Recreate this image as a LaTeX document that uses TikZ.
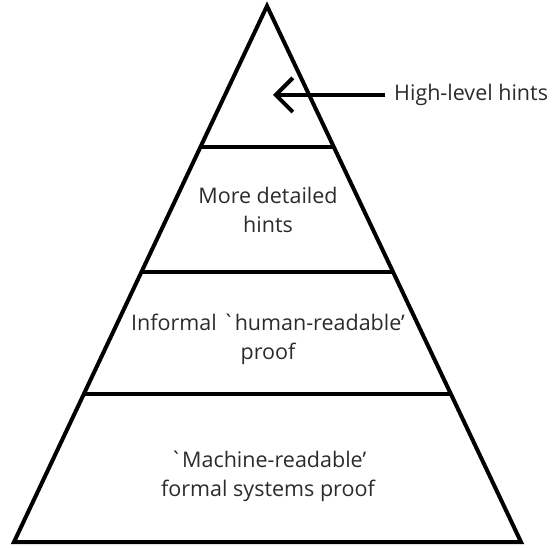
\documentclass[tikz,border=0pt]{standalone}
\usepackage{fontspec}
\usepackage{xcolor}
\usepackage{tikz}
\usetikzlibrary{arrows.meta, positioning, calc}
\newfontfamily\hintfont{Open Sans}
\definecolor{textColor}{HTML}{2B2B2B}

\begin{document}
\begin{tikzpicture}[x=1pt, y=-1pt,
        level/.style={font=\hintfont\fontsize{21.5}{29}\selectfont, text=textColor, align=center, inner sep=0pt},
        edge/.style={line width=4pt}]
    \useasboundingbox (0,0) rectangle (555,548);
    % pyramid
    \coordinate (apex) at (267,6);
    \coordinate (bl) at (14,542);
    \coordinate (br) at (521,542);
    \draw[edge, line join=miter] (apex) -- (bl) -- (br) -- cycle;
    % level separators
    \coordinate (l1) at ($(apex)!0.263!(bl)$);
    \coordinate (r1) at ($(apex)!0.263!(br)$);
    \coordinate (l2) at ($(apex)!0.496!(bl)$);
    \coordinate (r2) at ($(apex)!0.496!(br)$);
    \coordinate (l3) at ($(apex)!0.724!(bl)$);
    \coordinate (r3) at ($(apex)!0.724!(br)$);
    \draw[edge] (l1) -- (r1);
    \draw[edge] (l2) -- (r2);
    \draw[edge] (l3) -- (r3);
    % labels
    \node[level] (detailed) at (268,210) {More detailed\\hints};
    \node[level] (informal) at (268,339) {Informal `human-readable’\\proof};
    \node[level] (machine) at (268,476) {`Machine-readable’\\formal systems proof};
    \node[level, anchor=west] (highlevel) at (394,95) {High-level hints};
    \coordinate (tip) at (273,95);
    \draw[edge, -{Straight Barb[length=17pt, width=34pt]}] ([xshift=-9pt]highlevel.west) -- (tip);
\end{tikzpicture}
\end{document}
